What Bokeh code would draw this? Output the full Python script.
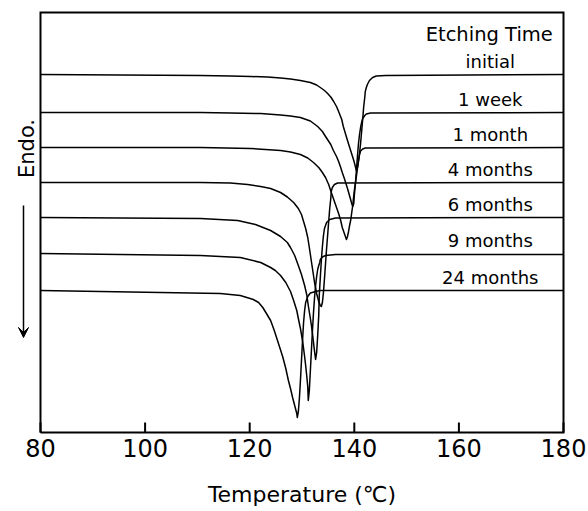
from math import pi

from bokeh.core.properties import value
from bokeh.embed import file_html
from bokeh.models import Arrow, Range1d, VeeHead
from bokeh.plotting import figure
from bokeh.resources import INLINE

# DSC melting curves: temperature (degC) and heat flow (arbitrary units, endotherm down)
temp_initial = [80, 110.6, 116.3, 120.2, 123.4, 125.9, 127.8, 129.7, 131.6, 132.8, 133.5, 134.3,
                134.9, 135.5, 136.0, 136.6, 137.0, 137.6, 137.9, 138.3, 138.7, 139.3, 139.9, 140.2,
                140.4, 140.6, 140.8, 141.0, 141.2, 141.4, 141.6, 141.8, 142.0, 142.1, 142.3, 142.5,
                142.9, 143.5, 144.2, 146.0, 180]
flow_initial = [0, -1, -1.5, -2, -2.5, -3.5, -4.5, -6, -8, -10.5, -13, -16,
                -19, -22.5, -26.5, -32, -37, -45, -52, -59, -66, -76, -86, -92,
                -96, -93, -87, -79, -69, -57, -45, -32, -23, -17, -13, -10,
                -6, -3, -1.5, -1, 0]

temp_1week = [80, 110.6, 116.3, 122.1, 125.9, 127.8, 129.7, 131.6, 133.0, 133.9, 134.5, 135.5,
              136.0, 136.6, 137.0, 137.4, 137.7, 138.1, 138.7, 139.3, 139.5, 139.7, 139.9, 140.0,
              140.2, 140.4, 140.6, 140.8, 141.0, 141.2, 141.4, 141.6, 142.0, 142.3, 143.1, 180]
flow_1week = [0, 0, -0.5, -1, -2.5, -3.5, -5, -8.5, -14, -19, -24, -32,
              -38, -44, -49, -55, -60, -66, -76, -87, -91, -94, -91, -83,
              -72, -58, -44, -31, -22, -15, -10, -6, -3, -1.5, -0.5, 0]

temp_1month = [80, 110.6, 120.2, 125.9, 127.8, 129.7, 131.1, 132.2, 133.2, 133.9, 134.5, 135.1,
               135.6, 136.0, 136.6, 137.0, 137.4, 137.7, 138.1, 138.3, 138.5, 138.7, 138.9, 139.1,
               139.3, 139.7, 140.0, 140.4, 140.6, 140.8, 141.0, 141.2, 141.6, 142.1, 180]
flow_1month = [0, 0, -1, -3, -4.5, -7, -10.5, -15, -20, -25, -30, -37,
               -45, -51, -60, -66, -73, -80, -86, -89, -92, -89, -84, -78,
               -73, -58, -43, -29, -21, -13, -7, -3.5, -1.5, -0.5, 0]

temp_4months = [80, 110.6, 116.3, 119.6, 122.1, 124.0, 125.9, 127.2, 128.4, 129.3, 129.9, 130.3,
                130.7, 131.1, 131.4, 131.6, 132.0, 132.4, 132.8, 133.2, 133.5, 133.7, 133.9, 134.1,
                134.3, 134.5, 134.7, 134.9, 135.1, 135.3, 135.5, 135.6, 135.8, 136.2, 136.8, 180]
flow_4months = [0, 0, -0.5, -2, -4, -6, -10, -14.5, -20, -26, -32, -39,
                -46, -55, -65, -72, -86, -100, -111, -119, -123, -124, -120, -110,
                -96, -81, -66, -53, -39, -26, -16, -9, -5, -2, -0.5, 0]

temp_6months = [80, 110.6, 117.7, 121.1, 124.0, 125.9, 127.2, 127.8, 128.6, 129.3, 129.9, 130.5,
                130.9, 131.2, 131.6, 131.8, 132.0, 132.2, 132.4, 132.6, 132.8, 133.0, 133.2, 133.3,
                133.5, 133.7, 133.9, 134.1, 134.3, 134.7, 135.3, 136.4, 180]
flow_6months = [0, -1, -3, -7, -13, -19, -25, -30, -38, -48, -57, -68,
                -77, -88, -101, -108, -116, -125, -134, -142, -135, -118, -98, -78,
                -60, -43, -29, -18, -11, -5, -2, -0.5, 0]

temp_9months = [80, 110.6, 118.2, 122.1, 124.0, 124.9, 125.9, 126.9, 127.8, 128.4, 129.0, 129.3,
                129.7, 130.1, 130.3, 130.5, 130.7, 130.9, 131.1, 131.2, 131.4, 131.6, 131.8, 132.0,
                132.2, 132.4, 132.6, 132.8, 133.0, 133.2, 133.4, 133.5, 133.9, 134.5, 136.4, 180]
flow_9months = [0, -2, -4, -9, -14, -17, -22, -29, -38, -47, -57, -65,
                -75, -87, -95, -103, -112, -122, -133, -147, -137, -117, -97, -77,
                -59, -44, -32, -23, -16, -12, -9, -6, -3.5, -2, -1, -1]

temp_24months = [80, 114.4, 118.2, 120.7, 121.7, 122.5, 123.2, 124.0, 124.7, 125.5, 126.3, 126.9,
                 127.4, 127.8, 128.2, 128.6, 129.0, 129.1, 129.3, 129.5, 129.7, 129.9, 130.1, 130.3,
                 130.5, 130.7, 131.1, 131.6, 132.6, 133.5, 180]
flow_24months = [0, -3, -5, -9, -12, -17, -23, -30, -40, -53, -66, -78,
                 -90, -98, -107, -115, -123, -127, -121, -108, -90, -70, -50, -32,
                 -20, -12, -6, -2.5, -1, 0, 0]

etching_times = ["initial", "1 week", "1 month", "4 months", "6 months", "9 months", "24 months"]
curve_offsets = [358, 320, 285, 250, 215, 179, 142]
x_ticks = [80, 100, 120, 140, 160, 180]
x_tick_labels = ["80", "100", "120", "140", "160", "180"]

curves = [
    (temp_initial, flow_initial),
    (temp_1week, flow_1week),
    (temp_1month, flow_1month),
    (temp_4months, flow_4months),
    (temp_6months, flow_6months),
    (temp_9months, flow_9months),
    (temp_24months, flow_24months),
]

FONT = "DejaVu Sans"
W, H = 588, 511

# The whole canvas is used as the plotting area; the box, ticks, tick labels
# and captions are drawn as glyphs around the data region.
T_MIN, T_MAX = 80, 180
Y_MIN, Y_MAX = 0, 420
PX_PER_DEG = 5.23
BOX_LEFT_PX, BOX_TOP_PX = 40, 12
deg = 1.0 / PX_PER_DEG
x_lo = T_MIN - BOX_LEFT_PX * deg
y_hi = Y_MAX + BOX_TOP_PX
y_lo = y_hi - H

p = figure(width=W, height=H, output_backend="svg", toolbar_location=None,
           x_range=Range1d(x_lo, x_lo + W * deg), y_range=Range1d(y_lo, y_hi),
           x_axis_location=None, y_axis_location=None,
           min_border=0, min_border_left=0, min_border_right=0,
           min_border_top=0, min_border_bottom=0)
p.background_fill_color = "white"
p.border_fill_color = "white"
p.outline_line_color = None
p.xgrid.visible = False
p.ygrid.visible = False

# box around the data area
p.line([T_MIN, T_MAX, T_MAX, T_MIN, T_MIN], [Y_MIN, Y_MIN, Y_MAX, Y_MAX, Y_MIN],
       line_color="black", line_width=2, line_join="miter")
# inward tick marks on the bottom edge
p.segment(x0=x_ticks, y0=[Y_MIN] * len(x_ticks), x1=x_ticks, y1=[Y_MIN + 10] * len(x_ticks),
          line_color="black", line_width=2)
# tick labels and axis title
p.text(x=x_ticks, y=[Y_MIN - 15] * len(x_ticks), text=x_tick_labels,
       text_align="center", text_baseline="middle", text_font=value(FONT),
       text_font_size="24px", text_color="black")
p.text(x=[(T_MIN + T_MAX) / 2], y=[Y_MIN - 62], text=["Temperature (℃)"],
       text_align="center", text_baseline="middle", text_font=value(FONT),
       text_font_size="22px", text_color="black")

for (temps, flows), offset in zip(curves, curve_offsets):
    p.line(temps, [offset + f for f in flows], line_color="black", line_width=1.5,
           line_join="round")

# curve labels sit just above each shifted baseline
p.text(x=[166] * len(etching_times), y=[o + 13 for o in curve_offsets], text=etching_times,
       text_align="center", text_baseline="middle", text_font=value(FONT),
       text_font_size="18px", text_color="black")
p.text(x=[165.8], y=[398], text=["Etching Time"], text_align="center", text_baseline="middle",
       text_font=value(FONT), text_font_size="19.5px", text_color="black")

# endotherm direction caption with a downward arrow
p.text(x=[T_MIN - 14 * deg], y=[284], text=["Endo."], angle=pi / 2, text_align="center",
       text_baseline="middle", text_font=value(FONT), text_font_size="21px",
       text_color="black")
p.add_layout(Arrow(x_start=T_MIN - 17 * deg, y_start=227, x_end=T_MIN - 17 * deg, y_end=95,
                   line_width=1.5, line_color="black",
                   end=VeeHead(size=10, fill_color="black", line_color="black")))

open("out.html", "w").write(file_html(p, INLINE))
